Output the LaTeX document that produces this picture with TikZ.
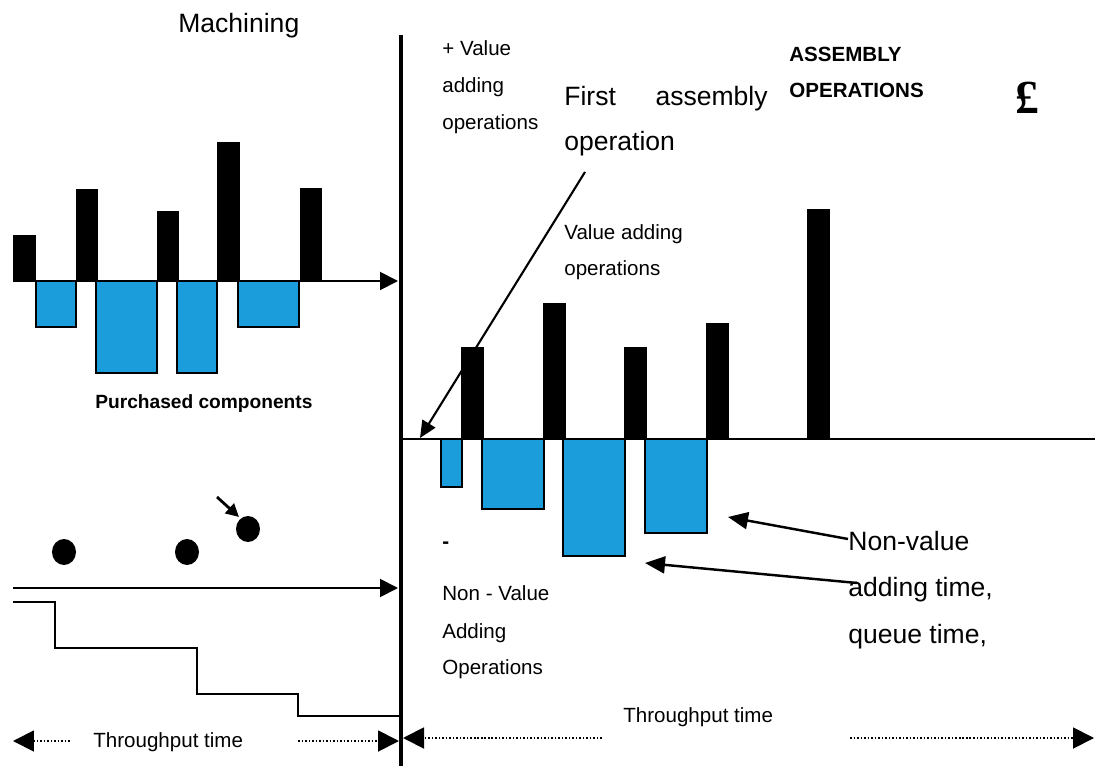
\documentclass[tikz,border=0pt]{standalone}
\usepackage{fontspec}
\setmainfont{Liberation Sans}
\newfontfamily\poundfont{Liberation Serif}
\usetikzlibrary{arrows.meta}
\definecolor{barblue}{RGB}{27,157,220}
\begin{document}
\begin{tikzpicture}[x=0.02cm,y=-0.02cm,
  small/.style={inner sep=0pt,anchor=base west,font=\fontsize{11.7}{14}\selectfont},
  smallb/.style={small,font=\fontsize{11.7}{14}\selectfont\bfseries},
  big/.style={inner sep=0pt,anchor=base west,font=\fontsize{15.1}{18}\selectfont},
  axis/.style={line width=1.1pt,-{Triangle[length=0.36cm,width=0.36cm]}},
  pointer/.style={line width=1.4pt,-{Triangle[length=0.4cm,width=0.34cm]}},
  dots/.style={line width=1.1pt,dash pattern=on 0.9pt off 1.1pt,-{Triangle[length=0.42cm,width=0.42cm]}},
  blackbar/.style={fill=black},
  bluebar/.style={fill=barblue,draw=black,line width=0.8pt},
  dot/.style={fill=black}]
\useasboundingbox (0,0) rectangle (1095,766);

% ---------- machining side ----------
\node[big] (mach) at (178,33) {Machining};

% value adding (black) and non value adding (blue) times
\fill[blackbar] (13,235) rectangle (36,281);
\fill[blackbar] (76,189) rectangle (98,281);
\fill[blackbar] (157,211) rectangle (179,281);
\fill[blackbar] (217,142) rectangle (240,281);
\fill[blackbar] (300,188) rectangle (322,281);
\draw[bluebar] (36,281) rectangle (76,327);
\draw[bluebar] (96,281) rectangle (157,373);
\draw[bluebar] (177,281) rectangle (217,373);
\draw[bluebar] (238,281) rectangle (299,327);

\coordinate (axA0) at (13,281);
\coordinate (axA1) at (398,281);
\draw[axis] (axA0) -- (axA1);

\node[smallb,font=\fontsize{10.9}{13}\selectfont\bfseries] (purch) at (95,409) {Purchased components};

% purchased components arriving
\fill[dot] (64,552) ellipse [x radius=12,y radius=13];
\fill[dot] (187,552) ellipse [x radius=12,y radius=13];
\fill[dot] (248,529) ellipse [x radius=12,y radius=13];
\coordinate (pa0) at (217,497);
\coordinate (pa1) at (239,517);
\draw[line width=1.6pt,-{Triangle[length=0.26cm,width=0.26cm]}] (pa0) -- (pa1);

\coordinate (axB0) at (13,588);
\coordinate (axB1) at (398,588);
\draw[axis] (axB0) -- (axB1);

% stock level falling in steps
\draw[line width=1.2pt] (13,602) -- (55,602) -- (55,648) -- (197,648) -- (197,694)
  -- (298,694) -- (298,716) -- (400,716);

% throughput time, machining
\node[small] (tpL) at (93,747) {Throughput time};
\coordinate (tl0) at (70,741);
\coordinate (tl1) at (13,741);
\coordinate (tl2) at (298,741);
\coordinate (tl3) at (399,741);
\draw[dots] (tl0) -- (tl1);
\draw[dots] (tl2) -- (tl3);

% ---------- divider ----------
\coordinate (div0) at (401,35);
\coordinate (div1) at (401,766);
\draw[line width=1.8pt] (div0) -- (div1);

% ---------- assembly side ----------
\node[small] (pv1) at (442,56) {+ Value};
\node[small] (pv2) at (442,93) {adding};
\node[small] (pv3) at (442,130) {operations};

\node[big] (fa1) at (564,106) {First};
\node[big,anchor=base east] (fa2) at (768,106) {assembly};
\node[big] (fa3) at (564,151) {operation};

\node[smallb] (as1) at (789,62) {ASSEMBLY};
\node[smallb] (as2) at (789,98) {OPERATIONS};

\node[inner sep=0pt,font=\fontsize{27}{30}\selectfont\poundfont\bfseries] (pound) at (1027,98) {£};

\node[small] (va1) at (564,240) {Value adding};
\node[small] (va2) at (564,276) {operations};

\fill[blackbar] (461,347) rectangle (484,439);
\fill[blackbar] (543,303) rectangle (566,439);
\fill[blackbar] (624,347) rectangle (647,439);
\fill[blackbar] (706,323) rectangle (729,439);
\fill[blackbar] (807,209) rectangle (830,439);
\draw[bluebar] (441,439) rectangle (462,487);
\draw[bluebar] (482,439) rectangle (544,509);
\draw[bluebar] (563,439) rectangle (625,556);
\draw[bluebar] (645,439) rectangle (707,533);

\coordinate (axC0) at (402,439);
\coordinate (axC1) at (1095,439);
\draw[line width=1.1pt] (axC0) -- (axC1);

% first assembly operation pointer
\coordinate (fa0) at (585,172);
\coordinate (faT) at (420,438);
\draw[line width=1.2pt,-{Triangle[length=0.34cm,width=0.3cm]}] (fa0) -- (faT);

\node[small,font=\fontsize{11.7}{14}\selectfont\bfseries] (minus) at (442,548) {-};
\node[small] (nv1) at (442,600) {Non - Value};
\node[small] (nv2) at (442,638) {Adding};
\node[small] (nv3) at (442,674) {Operations};

\node[big] (nq1) at (848,550) {Non-value};
\node[big] (nq2) at (848,596) {adding time,};
\node[big] (nq3) at (848,643) {queue time,};

\coordinate (q0) at (848,539);
\coordinate (q1) at (728,517);
\coordinate (q2) at (857,583);
\coordinate (q3) at (645,563);
\draw[pointer] (q0) -- (q1);
\draw[pointer] (q2) -- (q3);

% throughput time, assembly
\node[small] (tpR) at (623,722) {Throughput time};
\coordinate (tr0) at (602,738);
\coordinate (tr1) at (403,738);
\coordinate (tr2) at (850,738);
\coordinate (tr3) at (1094,738);
\draw[dots] (tr0) -- (tr1);
\draw[dots] (tr2) -- (tr3);
\end{tikzpicture}
\end{document}
